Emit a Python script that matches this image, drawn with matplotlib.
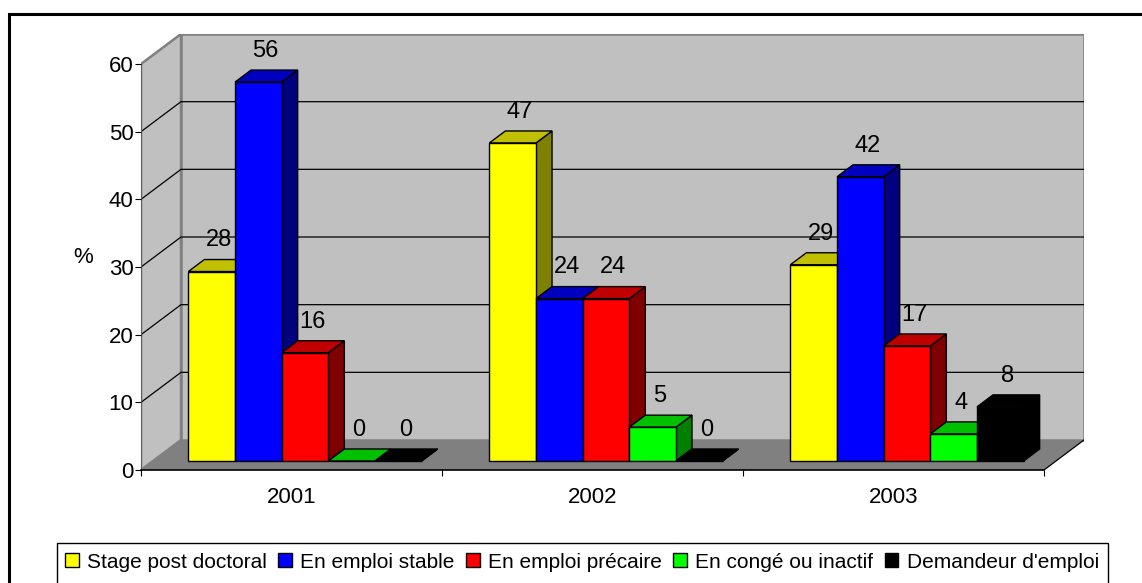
import numpy as np
import matplotlib
matplotlib.use('Agg')
from matplotlib import pyplot as plt
from matplotlib.patches import Polygon, Rectangle, Patch

plt.rcParams['font.family'] = ['Liberation Sans', 'DejaVu Sans']

#%% data
years = ['2001', '2002', '2003']
series = ['Stage post doctoral', 'En emploi stable', 'En emploi précaire',
          'En congé ou inactif', "Demandeur d'emploi"]
stage = [28, 47, 29]
stable = [56, 24, 42]
precaire = [16, 24, 17]
conge = [0, 5, 4]
demandeur = [0, 0, 8]
values = [stage, stable, precaire, conge, demandeur]

# front / top / side shades for each series
front_col = ['#FFFF00', '#0000FF', '#FF0000', '#00FF00', '#000000']
top_col = ['#C0C000', '#0000C0', '#C00000', '#00C000', '#000000']
side_col = ['#808000', '#000080', '#800000', '#008000', '#000000']

#%% figure and axes (pixel layout of the plot box)
W, H = 1142, 583
fig = plt.figure(figsize=(W / 100, H / 100), dpi=100)
x0, x1, ytop, ybot = 141, 1084, 34, 470
ax = fig.add_axes([x0 / W, (H - ybot) / H, (x1 - x0) / W, (ybot - ytop) / H])

ymax = 60
px_x = 301.0                      # pixels per category
px_y = (470 - 64) / 60.0          # pixels per percent
DX = 40 / px_x                    # depth offset in data units
DY = 30 / px_y
ncat = len(years)
ax.set_xlim(0, ncat + DX)
ax.set_ylim(0, ymax + DY)

#%% walls, floor, gridlines
wall = '#C0C0C0'
ax.add_patch(Rectangle((DX, DY), ncat, ymax, facecolor=wall, edgecolor='#808080', lw=1.8, zorder=0))
ax.add_patch(Polygon([(0, 0), (DX, DY), (DX, ymax + DY), (0, ymax)], closed=True,
                     facecolor=wall, edgecolor='#808080', lw=1.8, zorder=0))
ax.add_patch(Polygon([(0, 0), (ncat, 0), (ncat + DX, DY), (DX, DY)], closed=True,
                     facecolor='#808080', edgecolor='none', zorder=0.5))
ax.plot([ncat, ncat + DX], [0, DY], color='black', lw=0.9, zorder=0.6)

for g in range(10, ymax, 10):
    ax.plot([0, DX, ncat + DX], [g, g + DY, g + DY], color='black', lw=0.9, zorder=0.4)

#%% bars (front face sits at depth 0.3, back face at 0.7)
f0, f1 = 0.3, 0.7
w = 0.155
start = (1 - w * len(series)) / 2 + 0.005
z = 2.0
for c in range(ncat):
    for s in range(len(series)):
        v = values[s][c]
        xl = c + start + s * w + f0 * DX
        yb = f0 * DY
        xr = xl + w
        d = (f1 - f0)
        side = [(xr, yb), (xr + d * DX, yb + d * DY), (xr + d * DX, yb + v + d * DY), (xr, yb + v)]
        top = [(xl, yb + v), (xr, yb + v), (xr + d * DX, yb + v + d * DY), (xl + d * DX, yb + v + d * DY)]
        ax.add_patch(Polygon(side, closed=True, facecolor=side_col[s], edgecolor='black', lw=1, zorder=z))
        ax.add_patch(Polygon(top, closed=True, facecolor=top_col[s], edgecolor='black', lw=1, zorder=z + 0.001))
        ax.bar(xl, v, width=w, bottom=yb, align='edge', color=front_col[s], edgecolor='black', lw=1, zorder=z + 0.002)
        ax.text(xl + w / 2 + 0.18 * DX, v + f1 * DY + 1.2, str(v), ha='center', va='bottom',
                fontsize=17, zorder=10)
        z += 0.01

#%% axes lines, ticks, labels
for sp in ['top', 'right']:
    ax.spines[sp].set_visible(False)
ax.spines['left'].set_bounds(0, ymax)
ax.spines['left'].set_color('#606060')
ax.spines['bottom'].set_bounds(0, ncat)
ax.spines['bottom'].set_linewidth(1.2)
ax.spines['left'].set_zorder(1)
ax.spines['bottom'].set_zorder(1)
ax.set_facecolor('none')

ax.set_yticks(range(0, ymax + 1, 10))
ax.tick_params(axis='y', length=4.5, width=0.8, pad=1, labelsize=16)
ax.set_xticks(range(0, ncat + 1))
ax.set_xticklabels([])
ax.set_xticks(np.arange(ncat) + 0.5, minor=True)
ax.set_xticklabels(years, minor=True)
ax.tick_params(axis='x', which='major', length=4.5, width=0.8)
ax.tick_params(axis='x', which='minor', length=0, pad=12, labelsize=16)

ax.set_ylabel('%', rotation=0, fontsize=16)
ax.yaxis.set_label_coords((83 - x0) / (x1 - x0), (ybot - 268) / (ybot - ytop))

#%% legend and outer frames
handles = [Patch(facecolor=front_col[s], edgecolor='black', lw=1) for s in range(len(series))]
fig.legend(handles, series, ncol=5, loc='center', bbox_to_anchor=(582 / W, (H - 562) / H),
           frameon=False, fontsize=15, handlelength=0.65, handleheight=0.65,
           handletextpad=0.4, columnspacing=0.55, borderpad=0)
fig.patches.append(Rectangle((57 / W, -0.1), (1108 - 57) / W, 0.1 + (H - 543) / H,
                             transform=fig.transFigure, fill=False, edgecolor='black', lw=1))
fig.patches.append(Rectangle((9 / W, -0.1), 1.2, 0.1 + (H - 14) / H,
                             transform=fig.transFigure, fill=False, edgecolor='black', lw=2.2))

fig.savefig('out.png', dpi=100)
